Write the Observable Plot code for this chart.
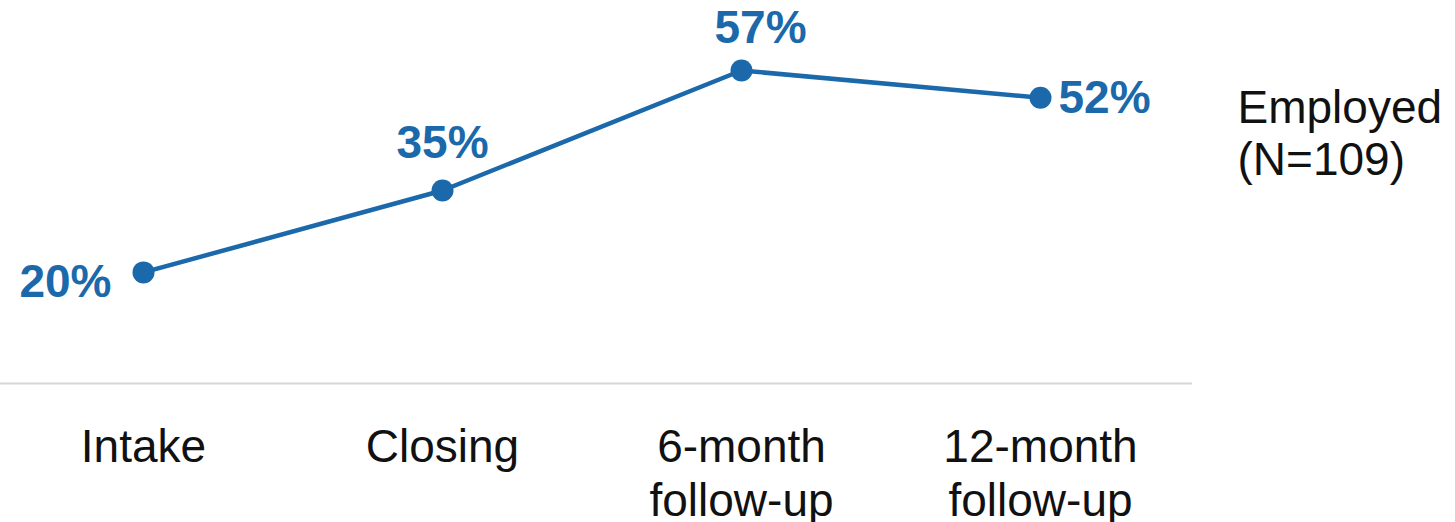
<!DOCTYPE html>
<html>
<head>
<meta charset="utf-8">
<script src="https://cdn.jsdelivr.net/npm/d3@7"></script>
<script src="https://cdn.jsdelivr.net/npm/@observablehq/plot@0.6"></script>
<style>
  html, body { margin: 0; padding: 0; background: #fff; }
  #chart svg { display: block; }
</style>
</head>
<body>
<div id="chart"></div>
<script>
const categories = ["Intake", "Closing", "6-month\nfollow-up", "12-month\nfollow-up"];
const employedPct = [20, 35, 57, 52];
const seriesLabel = "Employed\n(N=109)";

const data = categories.map((c, i) => ({stage: c, value: employedPct[i]}));
const blue = "#1b69ab";

const labelOffsets = [
  {dx: -32, dy: 10, anchor: "end"},
  {dx: 0, dy: -47, anchor: "middle"},
  {dx: 19, dy: -42, anchor: "middle"},
  {dx: 18, dy: 0, anchor: "start"}
];

const chart = Plot.plot({
  width: 1455,
  height: 522,
  marginLeft: 0,
  marginRight: 263,
  marginTop: 0,
  marginBottom: 0,
  style: {fontFamily: "'Liberation Sans', Arial, sans-serif", background: "#fff"},
  x: {type: "point", domain: categories, range: [142, 1040], padding: 0, axis: null},
  y: {domain: [0, 57], range: [381, 70], axis: null},
  marks: [
    Plot.ruleY([0], {stroke: "#d6d6d6", strokeWidth: 2, dy: 2}),
    Plot.text(categories, {
      x: d => d, y: () => 0, text: d => d,
      dy: 42, lineAnchor: "top", lineHeight: 1.17, fontSize: 46, fill: "#111"
    }),
    Plot.line(data, {x: "stage", y: "value", stroke: blue, strokeWidth: 4.5}),
    Plot.dot(data, {x: "stage", y: "value", r: 11, fill: blue, stroke: "none"}),
    ...data.map((d, i) => Plot.text([d], {
      x: "stage", y: "value", text: e => e.value + "%",
      dx: labelOffsets[i].dx, dy: labelOffsets[i].dy, textAnchor: labelOffsets[i].anchor,
      fill: blue, fontSize: 46, fontWeight: "bold"
    })),
    Plot.text([data[3]], {
      x: "stage", y: "value", text: () => seriesLabel,
      dx: 197, dy: -11, textAnchor: "start", lineAnchor: "top", lineHeight: 1.12,
      fill: "#111", fontSize: 46
    })
  ]
});
document.getElementById("chart").append(chart);
</script>
</body>
</html>
